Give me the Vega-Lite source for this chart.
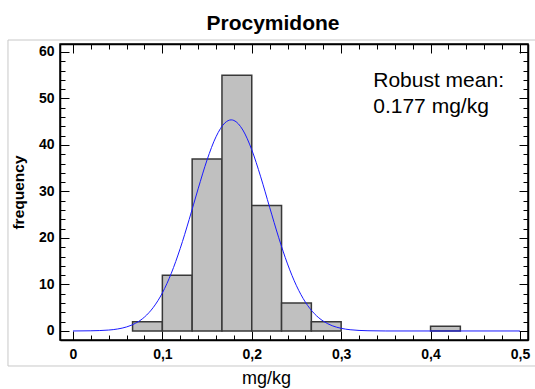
{
  "$schema": "https://vega.github.io/schema/vega-lite/v6.json",
  "width": 468,
  "height": 296,
  "autosize": {"type": "none"},
  "padding": {"left": 60, "top": 44, "right": 7, "bottom": 49},
  "config": {
    "view": {"stroke": "black", "strokeWidth": 1.5},
    "font": "Liberation Sans",
    "axis": {"grid": false, "domainColor": "black", "domainWidth": 1.5, "tickColor": "black", "tickWidth": 1, "labelColor": "black", "titleColor": "black"}
  },
  "title": {"text": "Procymidone", "fontSize": 21, "fontWeight": "bold", "font": "Liberation Sans", "anchor": "middle", "frame": "group", "dx": -21, "baseline": "alphabetic", "offset": -11, "color": "black"},
  "datasets": {
    "bins": [
      {"lo": 0.06667, "hi": 0.1, "count": 2},
      {"lo": 0.1, "hi": 0.13333, "count": 12},
      {"lo": 0.13333, "hi": 0.16667, "count": 37},
      {"lo": 0.16667, "hi": 0.2, "count": 55},
      {"lo": 0.2, "hi": 0.23333, "count": 27},
      {"lo": 0.23333, "hi": 0.26667, "count": 6},
      {"lo": 0.26667, "hi": 0.3, "count": 2},
      {"lo": 0.4, "hi": 0.43333, "count": 1}
    ],
    "curve": [
      {"x": 0, "y": 0},
      {"x": 0.02, "y": 0.04},
      {"x": 0.03, "y": 0.09},
      {"x": 0.04, "y": 0.2},
      {"x": 0.05, "y": 0.43},
      {"x": 0.06, "y": 0.87},
      {"x": 0.07, "y": 1.66},
      {"x": 0.08, "y": 2.99},
      {"x": 0.09, "y": 5.1},
      {"x": 0.1, "y": 8.18},
      {"x": 0.11, "y": 12.41},
      {"x": 0.12, "y": 17.76},
      {"x": 0.13, "y": 23.98},
      {"x": 0.14, "y": 30.57},
      {"x": 0.15, "y": 36.78},
      {"x": 0.16, "y": 41.76},
      {"x": 0.17, "y": 44.76},
      {"x": 0.177, "y": 45.4},
      {"x": 0.18, "y": 45.28},
      {"x": 0.19, "y": 43.23},
      {"x": 0.2, "y": 38.97},
      {"x": 0.21, "y": 33.15},
      {"x": 0.22, "y": 26.61},
      {"x": 0.23, "y": 20.16},
      {"x": 0.24, "y": 14.42},
      {"x": 0.25, "y": 9.73},
      {"x": 0.26, "y": 6.2},
      {"x": 0.27, "y": 3.73},
      {"x": 0.28, "y": 2.12},
      {"x": 0.29, "y": 1.13},
      {"x": 0.3, "y": 0.57},
      {"x": 0.31, "y": 0.27},
      {"x": 0.32, "y": 0.12},
      {"x": 0.33, "y": 0.05},
      {"x": 0.35, "y": 0},
      {"x": 0.5, "y": 0}
    ]
  },
  "layer": [
    {
      "data": {"values": [{}]},
      "mark": {"type": "rect", "fill": null, "fillOpacity": 0, "stroke": "#c8c8c8", "strokeWidth": 1, "clip": false},
      "encoding": {
        "x": {"datum": -0.0727, "type": "quantitative", "axis": null},
        "x2": {"datum": 0.519},
        "y": {"datum": 62.58, "type": "quantitative", "axis": null},
        "y2": {"datum": -7.53}
      }
    },
    {
      "data": {"name": "bins"},
      "mark": {"type": "rect", "fill": "#c0c0c0", "stroke": "#383838", "strokeWidth": 1.5},
      "encoding": {
        "x": {
          "field": "lo", "type": "quantitative",
          "scale": {"domain": [-0.0145, 0.509], "nice": false, "zero": false},
          "axis": {
            "orient": "bottom",
            "values": [0, 0.02, 0.04, 0.06, 0.08, 0.1, 0.12, 0.14, 0.16, 0.18, 0.2, 0.22, 0.24, 0.26, 0.28, 0.3, 0.32, 0.34, 0.36, 0.38, 0.4, 0.42, 0.44, 0.46, 0.48, 0.5],
            "labelExpr": "round(datum.value*100) % 10 === 0 ? replace(format(datum.value, '.1~f'), '.', ',') : ''",
            "tickSize": {"condition": {"test": "round(datum.value*100) % 10 === 0", "value": -9}, "value": -5},
            "labelFontSize": 14, "labelFontWeight": "bold", "labelPadding": 16, "labelFlush": false, "labelOverlap": false,
            "title": "mg/kg", "titleFontSize": 18, "titleFontWeight": "normal", "titleX": 206, "titleY": 43, "titleBaseline": "alphabetic", "titleAnchor": "middle"
          }
        },
        "x2": {"field": "hi"},
        "y": {
          "field": "count", "type": "quantitative",
          "scale": {"domain": [-1.94, 61.72], "nice": false, "zero": false},
          "axis": {
            "orient": "left",
            "values": [0, 2, 4, 6, 8, 10, 12, 14, 16, 18, 20, 22, 24, 26, 28, 30, 32, 34, 36, 38, 40, 42, 44, 46, 48, 50, 52, 54, 56, 58, 60],
            "labelExpr": "datum.value % 10 === 0 ? datum.label : ''",
            "tickSize": {"condition": {"test": "datum.value % 10 === 0", "value": -9}, "value": -5},
            "labelFontSize": 14, "labelFontWeight": "bold", "labelPadding": 15, "labelFlush": false, "labelOverlap": false,
            "title": "frequency", "titleFontSize": 15.5, "titleFontWeight": "bold", "titleX": -42, "titleY": 148, "titleBaseline": "middle", "titleAnchor": "middle"
          }
        },
        "y2": {"datum": 0}
      }
    },
    {
      "data": {"name": "curve"},
      "mark": {"type": "line", "color": "#1a1aff", "strokeWidth": 1, "interpolate": "monotone"},
      "encoding": {
        "x": {
          "field": "x", "type": "quantitative",
          "axis": {
            "orient": "top", "title": null, "labels": false,
            "values": [0, 0.02, 0.04, 0.06, 0.08, 0.1, 0.12, 0.14, 0.16, 0.18, 0.2, 0.22, 0.24, 0.26, 0.28, 0.3, 0.32, 0.34, 0.36, 0.38, 0.4, 0.42, 0.44, 0.46, 0.48, 0.5],
            "tickSize": {"condition": {"test": "round(datum.value*100) % 10 === 0", "value": -9}, "value": -5}
          }
        },
        "y": {
          "field": "y", "type": "quantitative",
          "axis": {
            "orient": "right", "title": null, "labels": false,
            "values": [0, 2, 4, 6, 8, 10, 12, 14, 16, 18, 20, 22, 24, 26, 28, 30, 32, 34, 36, 38, 40, 42, 44, 46, 48, 50, 52, 54, 56, 58, 60],
            "tickSize": {"condition": {"test": "datum.value % 10 === 0", "value": -9}, "value": -5}
          }
        }
      }
    },
    {
      "data": {"values": [{"line1": "Robust mean:", "line2": "0.177 mg/kg"}]},
      "layer": [
        {
          "mark": {"type": "text", "align": "left", "baseline": "alphabetic", "fontSize": 21, "color": "black"},
          "encoding": {
            "x": {"datum": 0.3359, "type": "quantitative", "axis": null},
            "y": {"datum": 52.54, "type": "quantitative", "axis": null},
            "text": {"field": "line1"}
          }
        },
        {
          "mark": {"type": "text", "align": "left", "baseline": "alphabetic", "fontSize": 21, "color": "black"},
          "encoding": {
            "x": {"datum": 0.3359, "type": "quantitative", "axis": null},
            "y": {"datum": 46.82, "type": "quantitative", "axis": null},
            "text": {"field": "line2"}
          }
        }
      ]
    }
  ],
  "resolve": {"axis": {"x": "independent", "y": "independent"}}
}
